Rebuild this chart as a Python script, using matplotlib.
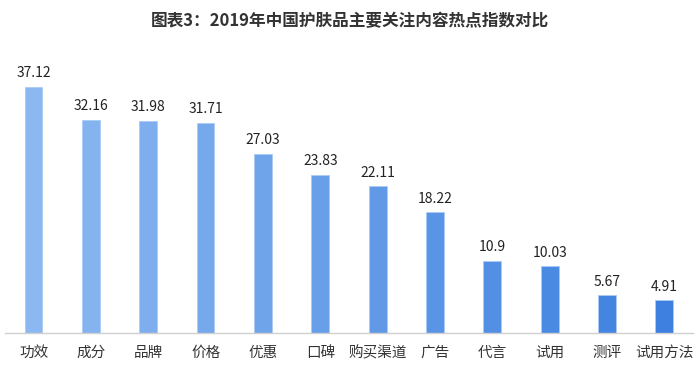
import matplotlib.pyplot as plt
import matplotlib.colors as mcolors
import numpy as np

plt.rcParams['font.family'] = ['Noto Sans CJK SC', 'DejaVu Sans']

categories = ['功效', '成分', '品牌', '价格', '优惠', '口碑', '购买渠道',
              '广告', '代言', '试用', '测评', '试用方法']
values = [37.12, 32.16, 31.98, 31.71, 27.03, 23.83, 22.11,
          18.22, 10.9, 10.03, 5.67, 4.91]
labels = ['37.12', '32.16', '31.98', '31.71', '27.03', '23.83', '22.11',
          '18.22', '10.9', '10.03', '5.67', '4.91']

fig = plt.figure(figsize=(7, 3.85), dpi=100)
ax = fig.add_axes([0.007, 0.135, 0.983, 0.71])

c1 = np.array(mcolors.to_rgb('#8cb8f1'))
c2 = np.array(mcolors.to_rgb('#3d80df'))
n = len(values)
colors = [tuple(c1 + (c2 - c1) * i / (n - 1)) for i in range(n)]

x = np.arange(n)
bars = ax.bar(x, values, width=0.31, color=colors, edgecolor='#a9cbf5',
              linewidth=0.6)
for xi, v, lab in zip(x, values, labels):
    ax.text(xi, v + 1.0, lab, ha='center', va='bottom', fontsize=10,
            fontweight='medium', color='#222222')

ax.set_xlim(-0.5, n - 0.5)
ax.set_ylim(0, 41.2)
ax.set_xticks(x)
ax.set_xticklabels(categories, fontsize=10.5, color='#333333')
ax.tick_params(axis='x', length=0, pad=9)
ax.set_yticks([])
for s in ['top', 'right', 'left']:
    ax.spines[s].set_visible(False)
ax.spines['bottom'].set_color('#d0d0d0')
ax.spines['bottom'].set_linewidth(1)

fig.text(0.5, 0.946, '图表3：2019年中国护肤品主要关注内容热点指数对比',
         ha='center', va='center', fontsize=12, fontweight='bold',
         color='#333333')

fig.savefig('out.png', dpi=100)
